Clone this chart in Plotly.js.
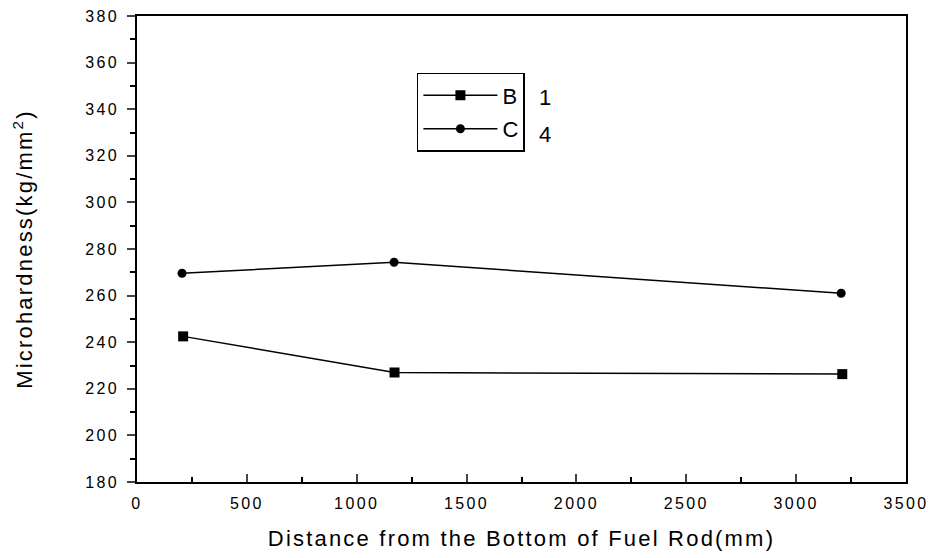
<!DOCTYPE html>
<html><head><meta charset="utf-8">
<script src="https://cdn.plot.ly/plotly-3.0.1.min.js"></script>
<style>
body{margin:0;background:#fff}#chart{width:928px;height:558px}
.xtick text, .ytick text {letter-spacing: 2.4px;}
.g-xtitle text, .g-ytitle text {letter-spacing: 2.2px;}
</style>
</head><body><div id="chart"></div>
<script>
const xB = [210, 1172, 3210];
const yB = [242.5, 227, 226.3];
const xC = [205, 1170, 3205];
const yC = [269.6, 274.3, 261];
const nameB = 'B';
const nameC = 'C';
const legendNotes = ['1', '4'];

const font = 'Liberation Sans, Arial, sans-serif';
const traces = [
  {x: xB, y: yB, name: nameB, legendgroup: 'b', mode: 'lines+markers', type: 'scatter',
   line: {color: '#000', width: 1.5}, marker: {symbol: 'square', size: 10, color: '#000'}},
  {x: xC, y: yC, name: nameC, legendgroup: 'c', mode: 'lines+markers', type: 'scatter',
   line: {color: '#000', width: 1.5}, marker: {symbol: 'circle', size: 9, color: '#000'}}
];
const layout = {
  width: 928, height: 558,
  margin: {l: 137, r: 22, t: 16, b: 76},
  paper_bgcolor: '#fff', plot_bgcolor: '#fff',
  font: {family: font, color: '#000'},
  showlegend: true,
  legend: {x: 0.364, y: 0.878, xanchor: 'left', yanchor: 'top', bordercolor: '#000', borderwidth: 1.5,
           font: {size: 22, family: font}, itemwidth: 74, traceorder: 'grouped', tracegroupgap: 2,
           bgcolor: 'rgba(0,0,0,0)'},
  xaxis: {range: [0, 3500], dtick: 500, tick0: 0, ticks: 'inside', ticklen: 8, tickwidth: 1.5,
          minor: {dtick: 250, ticks: 'inside', ticklen: 5, tickwidth: 1.5, tickcolor: '#000'},
          showline: true, linecolor: '#000', linewidth: 1.5, mirror: true, showgrid: false, zeroline: false,
          tickfont: {size: 16, family: font}, ticklabelstandoff: 6, ticklabeloverflow: 'allow',
          title: {text: 'Distance from the Bottom of Fuel Rod(mm)', font: {size: 22, family: font}, standoff: 20}},
  yaxis: {range: [180, 380], dtick: 20, tick0: 180, ticks: 'outside', ticklen: 8, tickwidth: 1.5,
          minor: {dtick: 10, ticks: 'outside', ticklen: 5, tickwidth: 1.5, tickcolor: '#000'},
          showline: true, linecolor: '#000', linewidth: 1.5, mirror: true, showgrid: false, zeroline: false,
          tickfont: {size: 16, family: font}, ticklabelstandoff: 5, ticklabeloverflow: 'allow',
          title: {text: 'Microhardness(kg/mm<sup>2</sup>)', font: {size: 22, family: font}, standoff: 46}},
  annotations: [
    {xref: 'paper', yref: 'paper', x: 0.52, y: 0.826, text: legendNotes[0], showarrow: false, font: {size: 22, family: font}, xanchor: 'left', yanchor: 'middle'},
    {xref: 'paper', yref: 'paper', x: 0.52, y: 0.745, text: legendNotes[1], showarrow: false, font: {size: 22, family: font}, xanchor: 'left', yanchor: 'middle'}
  ]
};
Plotly.newPlot('chart', traces, layout, {displayModeBar: false});
</script></body></html>
